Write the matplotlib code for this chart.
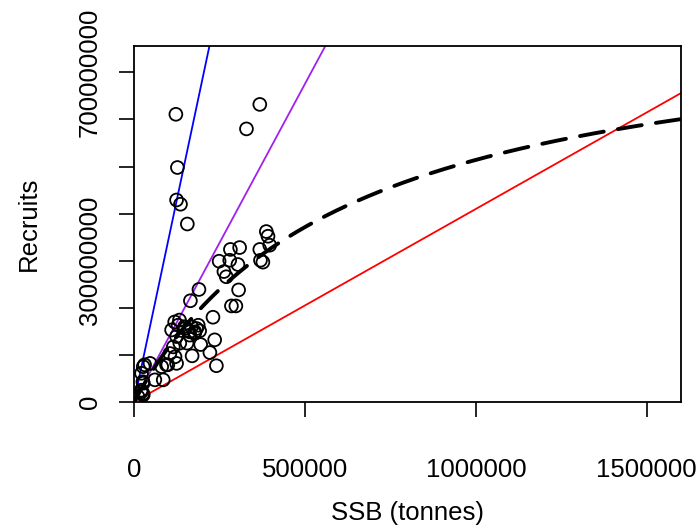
import numpy as np
import matplotlib.pyplot as plt

plt.rcParams['font.family'] = ['Liberation Sans', 'DejaVu Sans']

# spawning stock biomass (thousand tonnes) and recruits (millions)
ssb_kt = [122.5, 368, 329, 127, 124.5, 136, 156,
          387, 392, 397, 368, 309, 282, 249, 280, 304, 263, 270, 370, 377,
          190, 306, 165, 285, 298, 231, 236, 222, 241, 195, 170, 155,
          110, 129, 149, 168, 183, 188, 178, 163, 124.5, 134, 115, 105, 120,
          124.5, 95, 81, 85.5, 61, 27, 47, 22, 27, 22, 27, 12,
          133, 192, 162, 177, 148, 119, 99, 31, 26, 21, 26]
recruits_m = [611, 632, 580, 498, 429, 420, 378,
              362, 352, 333, 324, 328, 324, 299, 301, 292, 277, 266, 301, 297,
              239, 238, 215, 204, 204, 180, 132, 105, 77, 122, 98, 125,
              153, 163, 156, 160, 156, 163, 149, 142, 139, 125, 117, 103, 96,
              82, 79, 75, 47, 47, 75, 82, 61, 40, 22, 15, 11,
              174, 151, 149, 146, 160, 170, 79, 79, 43, 25, 18]

ssb = np.array(ssb_kt) * 1e3
recruits = np.array(recruits_m) * 1e6

# replacement lines (recruits per tonne of SSB)
slope_blue = 3426
slope_purple = 1351
slope_red = 410

# Beverton-Holt fit: R = a*S / (b + S)
bh_a = 8.35e8
bh_b = 6.24e5

xmax = 1.6e6
ymax = 7.56e8

fig = plt.figure(figsize=(6.99, 5.29), dpi=100)
ax = fig.add_axes([0.1917, 0.2401, 0.7825, 0.6729])

ax.scatter(ssb, recruits, s=85, facecolors='none', edgecolors='black',
           linewidths=1.3, zorder=3)

for slope, col in [(slope_blue, 'blue'), (slope_purple, '#A020F0'),
                   (slope_red, 'red')]:
    ax.plot([0, xmax], [0, slope * xmax], color=col, lw=1.3, zorder=2)

s_grid = np.linspace(0, xmax, 400)
ax.plot(s_grid, bh_a * s_grid / (bh_b + s_grid), color='black', lw=2.8,
        dashes=(6.2, 3.7), dash_capstyle='round', zorder=4)

ax.set_xlim(0, xmax)
ax.set_ylim(0, ymax)

ax.set_xticks([0, 5e5, 1e6, 1.5e6])
ax.set_xticklabels(['0', '500000', '1000000', '1500000'])
ax.set_yticks(np.arange(0, 8e8, 1e8))
ax.set_yticklabels(['0', '', '', '300000000', '', '', '', '700000000'],
                   rotation=90, va='center')

ax.tick_params(length=11, width=1.2, labelsize=18.5)
ax.tick_params(axis='x', pad=29)
ax.tick_params(axis='y', pad=12)
for sp in ax.spines.values():
    sp.set_linewidth(1.3)

ax.set_xlabel('SSB (tonnes)', fontsize=18.5, labelpad=14)
ax.set_ylabel('Recruits', fontsize=18.5, labelpad=27)

fig.savefig('out.png', dpi=100)
